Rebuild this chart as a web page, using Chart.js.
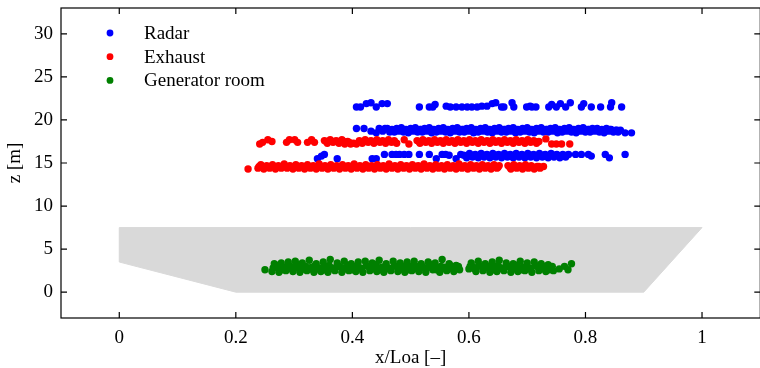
<!DOCTYPE html>
<html>
<head>
<meta charset="utf-8">
<script src="https://cdn.jsdelivr.net/npm/chart.js@4.4.1/dist/chart.umd.min.js"></script>
<style>
html, body { margin: 0; padding: 0; background: #fff; overflow: hidden; }
#wrap { width: 764px; height: 368px; }
</style>
</head>
<body>
<div id="wrap"><canvas id="zChart"></canvas></div>
<script>
// axis ticks
const xTicks = [0, 0.2, 0.4, 0.6, 0.8, 1];
const yTicks = [0, 5, 10, 15, 20, 25, 30];

const seriesNames = ['Radar', 'Exhaust', 'Generator room'];
const seriesColors = ['#0000ff', '#ff0000', '#008000'];

// hull outline (x/Loa, z)
const hullX = [0, 0, 1.0, 0.9, 0.2, 0];
const hullZ = [3.5, 7.5, 7.5, 0, 0, 3.5];

// Radar points [x/Loa, z]
const radarTop = [
  [0.407,21.5],[0.414,21.5],[0.424,21.9],[0.432,22.0],[0.441,21.5],[0.451,21.9],[0.460,21.9],
  [0.515,21.5],[0.532,21.5],[0.538,21.5],[0.542,21.8],[0.561,21.6],[0.568,21.5],[0.578,21.5],
  [0.588,21.5],[0.597,21.5],[0.605,21.5],[0.614,21.5],[0.622,21.6],[0.631,21.6],[0.640,21.9],
  [0.646,22.0],[0.656,21.5],[0.660,21.5],[0.674,22.0],[0.677,21.5],[0.699,21.5],[0.705,21.6],
  [0.708,21.5],[0.715,21.5],[0.737,21.5],[0.742,21.8],[0.750,21.5],[0.757,21.9],[0.766,21.5],
  [0.774,22.0],[0.793,21.5],[0.797,21.9],[0.810,21.5],[0.826,21.5],[0.843,21.5],[0.845,22.0],
  [0.862,21.5]
];
const radarMid = [
  [0.407,19.0],[0.420,19.0],[0.432,18.7],[0.441,18.5],[0.446,19.0],[0.452,18.7],[0.456,19.0],
  [0.460,19.0],[0.464,18.6],[0.468,18.9],[0.472,18.6],[0.476,19.0],[0.480,18.7],[0.484,19.1],
  [0.488,18.6],[0.492,18.9],[0.496,18.5],[0.500,19.0],[0.504,18.7],[0.508,19.1],[0.512,18.6],
  [0.516,18.9],[0.520,18.6],[0.524,19.0],[0.528,18.7],[0.532,19.1],[0.536,18.5],[0.540,18.9],
  [0.544,18.6],[0.548,19.0],[0.552,18.7],[0.556,19.1],[0.560,18.6],[0.564,18.9],[0.568,18.5],
  [0.572,19.0],[0.576,18.7],[0.580,19.1],[0.584,18.6],[0.588,18.9],[0.592,18.6],[0.596,19.0],
  [0.600,18.7],[0.604,19.1],[0.608,18.5],[0.612,18.9],[0.616,18.6],[0.620,19.0],[0.624,18.7],
  [0.628,19.1],[0.632,18.6],[0.636,18.9],[0.640,18.5],[0.644,19.0],[0.648,18.7],[0.652,19.1],
  [0.656,18.6],[0.660,18.9],[0.664,18.6],[0.668,19.0],[0.672,18.7],[0.676,19.1],[0.680,18.5],
  [0.684,18.9],[0.688,18.6],[0.692,19.0],[0.696,18.7],[0.700,19.1],[0.704,18.6],[0.708,18.9],
  [0.712,18.5],[0.716,19.0],[0.720,18.7],[0.724,19.1],[0.728,18.6],[0.732,18.9],[0.736,18.6],
  [0.740,19.0],[0.744,18.7],[0.748,19.1],[0.752,18.5],[0.756,18.9],[0.760,18.6],[0.764,19.0],
  [0.768,18.7],[0.772,19.1],[0.776,18.6],[0.780,18.9],[0.784,18.5],[0.788,19.0],[0.792,18.7],
  [0.796,19.1],[0.800,18.6],[0.804,18.9],[0.808,18.6],[0.812,19.0],[0.816,18.7],[0.820,19.0],
  [0.824,18.6],[0.828,18.9],[0.832,18.5],[0.836,19.0],[0.840,18.7],[0.844,18.9],[0.848,18.6],
  [0.852,18.8],[0.856,18.6],[0.860,18.8],[0.868,18.5],[0.879,18.5],
  [0.470,18.8],[0.482,18.9],[0.494,18.8],[0.506,18.8],[0.518,18.9],[0.530,18.8],[0.542,18.8],
  [0.554,18.9],[0.566,18.8],[0.578,18.8],[0.590,18.9],[0.602,18.8],[0.614,18.8],[0.626,18.9],
  [0.638,18.8],[0.650,18.8],[0.662,18.9],[0.674,18.8],[0.686,18.8],[0.698,18.9],[0.710,18.8],
  [0.722,18.8],[0.734,18.9],[0.746,18.8],[0.758,18.8],[0.770,18.9],[0.782,18.8],[0.794,18.8],
  [0.806,18.9],[0.818,18.8],[0.830,18.8],[0.842,18.9],[0.854,18.8]
];
const radarLow = [
  [0.340,15.5],[0.347,15.8],[0.352,16.0],[0.374,15.5],[0.434,15.5],[0.441,15.5],[0.455,16.0],
  [0.468,16.0],[0.475,16.0],[0.481,16.0],[0.489,16.0],[0.497,16.0],[0.515,16.0],[0.532,16.0],
  [0.544,15.5],[0.554,16.0],[0.560,16.0],[0.566,15.9],[0.578,15.5],[0.586,16.0],
  [0.591,15.9],[0.596,15.6],[0.601,16.1],[0.606,15.7],[0.611,16.0],[0.616,15.6],[0.621,16.1],
  [0.626,15.7],[0.631,16.0],[0.636,15.6],[0.641,16.1],[0.646,15.7],[0.651,16.0],[0.656,15.6],
  [0.661,16.1],[0.666,15.7],[0.671,16.0],[0.676,15.6],[0.681,16.1],[0.686,15.7],[0.691,16.0],
  [0.696,15.6],[0.701,16.1],[0.706,15.7],[0.711,16.0],[0.716,15.6],[0.721,16.1],[0.726,15.7],
  [0.731,16.0],[0.736,15.6],[0.741,16.1],[0.746,15.7],[0.751,16.0],[0.756,15.6],[0.761,16.0],
  [0.766,15.7],[0.771,16.0],[0.783,16.0],[0.793,16.0],[0.805,16.0],[0.810,15.8],[0.834,16.0],
  [0.841,15.6],[0.868,16.0],
  [0.598,15.8],[0.608,15.9],[0.618,15.8],[0.628,15.9],[0.638,15.8],[0.648,15.9],[0.658,15.8],
  [0.668,15.9],[0.678,15.8],[0.688,15.9],[0.698,15.8],[0.708,15.9],[0.718,15.8],[0.728,15.9],
  [0.738,15.8],[0.748,15.9],[0.758,15.8],[0.768,15.9]
];

// Exhaust points [x/Loa, z]
const exhaustUpper = [
  [0.241,17.2],[0.246,17.4],[0.255,17.7],[0.262,17.5],[0.287,17.4],[0.292,17.7],[0.301,17.7],
  [0.306,17.4],[0.323,17.4],[0.330,17.7],[0.335,17.4],
  [0.352,17.6],[0.357,17.3],[0.362,17.7],[0.367,17.4],[0.372,17.6],[0.377,17.3],[0.382,17.7],
  [0.387,17.2],[0.392,17.5],[0.397,17.2],[0.402,17.3],[0.407,17.2],[0.412,17.6],[0.417,17.3],
  [0.422,17.7],[0.427,17.4],[0.432,17.6],[0.437,17.3],[0.442,17.7],[0.447,17.4],[0.452,17.6],
  [0.457,17.3],[0.462,17.7],[0.467,17.4],[0.472,17.6],[0.476,17.3],
  [0.489,17.7],[0.497,17.2],
  [0.511,17.6],[0.516,17.3],[0.521,17.7],[0.526,17.4],[0.531,17.6],[0.536,17.3],[0.541,17.7],
  [0.546,17.4],[0.551,17.6],[0.556,17.3],[0.561,17.7],[0.566,17.4],[0.571,17.6],[0.576,17.3],
  [0.581,17.7],[0.586,17.4],[0.591,17.6],[0.596,17.3],[0.601,17.7],[0.606,17.4],[0.611,17.6],
  [0.616,17.3],[0.621,17.7],[0.626,17.4],[0.631,17.6],[0.636,17.3],[0.641,17.7],[0.646,17.4],
  [0.651,17.6],[0.656,17.3],[0.661,17.7],[0.666,17.4],[0.671,17.6],[0.676,17.3],[0.681,17.7],
  [0.686,17.4],[0.691,17.6],[0.696,17.3],[0.701,17.7],[0.706,17.4],[0.711,17.6],[0.716,17.3],
  [0.720,17.5],[0.732,17.8],[0.742,17.2],[0.750,17.2],[0.759,17.2],[0.773,17.2],
  [0.355,17.5],[0.365,17.5],[0.375,17.5],[0.385,17.5],[0.395,17.4],[0.420,17.5],[0.430,17.5],
  [0.440,17.5],[0.450,17.5],[0.460,17.5],[0.470,17.5],[0.514,17.5],[0.524,17.5],[0.534,17.5],
  [0.544,17.5],[0.554,17.5],[0.564,17.5],[0.574,17.5],[0.584,17.5],[0.594,17.5],[0.604,17.5],
  [0.614,17.5],[0.624,17.5],[0.634,17.5],[0.644,17.5],[0.654,17.5],[0.664,17.5],[0.674,17.5],
  [0.684,17.5],[0.694,17.5],[0.704,17.5],[0.714,17.5]
];
const exhaustLower = [
  [0.221,14.3],
  [0.238,14.4],[0.243,14.8],[0.248,14.3],[0.253,14.7],[0.258,14.4],[0.263,14.8],[0.268,14.3],
  [0.273,14.7],[0.278,14.4],[0.283,14.9],[0.288,14.4],[0.293,14.7],[0.298,14.3],[0.303,14.8],
  [0.308,14.4],[0.313,14.7],[0.318,14.3],[0.323,14.8],[0.328,14.4],[0.333,14.7],[0.338,14.3],
  [0.343,14.9],[0.348,14.4],[0.353,14.7],[0.358,14.3],[0.363,14.8],[0.368,14.4],[0.373,14.7],
  [0.378,14.3],[0.383,14.8],[0.388,14.4],[0.393,14.7],[0.398,14.3],[0.403,14.9],[0.408,14.4],
  [0.413,14.7],[0.418,14.3],[0.423,14.8],[0.428,14.4],[0.433,14.7],[0.438,14.3],[0.443,14.8],
  [0.448,14.4],[0.453,14.7],[0.458,14.3],[0.463,14.9],[0.468,14.4],[0.473,14.7],[0.478,14.3],
  [0.483,14.8],[0.488,14.4],[0.493,14.7],[0.498,14.3],[0.503,14.8],[0.508,14.4],[0.513,14.7],
  [0.518,14.3],[0.523,14.9],[0.528,14.4],[0.533,14.7],[0.538,14.3],[0.543,14.8],[0.548,14.4],
  [0.553,14.7],[0.558,14.3],[0.563,14.8],[0.568,14.4],[0.573,14.7],[0.578,14.3],[0.583,14.9],
  [0.588,14.4],[0.593,14.7],[0.598,14.3],[0.603,14.8],[0.608,14.4],[0.613,14.7],[0.618,14.3],
  [0.623,14.8],[0.628,14.4],[0.633,14.7],[0.638,14.3],[0.643,14.8],[0.648,14.4],[0.652,14.7],
  [0.667,14.7],[0.672,14.3],[0.677,14.8],[0.682,14.4],[0.687,14.7],[0.692,14.3],[0.697,14.8],
  [0.702,14.4],[0.707,14.7],[0.712,14.3],[0.717,14.6],[0.722,14.4],[0.728,14.6],
  [0.240,14.6],[0.250,14.5],[0.260,14.6],[0.270,14.5],[0.280,14.6],[0.290,14.6],[0.300,14.5],
  [0.310,14.6],[0.320,14.5],[0.330,14.6],[0.340,14.6],[0.350,14.5],[0.360,14.6],[0.370,14.5],
  [0.380,14.6],[0.390,14.6],[0.400,14.5],[0.410,14.6],[0.420,14.5],[0.430,14.6],[0.440,14.6],
  [0.450,14.5],[0.460,14.6],[0.470,14.5],[0.480,14.6],[0.490,14.6],[0.500,14.5],[0.510,14.6],
  [0.520,14.5],[0.530,14.6],[0.540,14.6],[0.550,14.5],[0.560,14.6],[0.570,14.5],[0.580,14.6],
  [0.590,14.6],[0.600,14.5],[0.610,14.6],[0.620,14.5],[0.630,14.6],[0.640,14.6],[0.650,14.5],
  [0.670,14.5],[0.680,14.6],[0.690,14.5],[0.700,14.6],[0.710,14.5],[0.720,14.6]
];

// Generator room points [x/Loa, z]
const generatorPts = [
  [0.250,2.6],
  [0.262,2.4],[0.266,3.3],[0.270,2.9],[0.274,2.3],[0.278,3.4],[0.282,2.8],[0.286,2.5],[0.290,3.5],
  [0.294,3.0],[0.298,2.4],[0.302,3.6],[0.306,2.8],[0.310,2.3],[0.314,3.4],[0.318,3.0],[0.322,2.5],
  [0.326,3.7],[0.330,2.9],[0.334,2.3],[0.338,3.3],[0.342,2.7],[0.346,2.4],[0.350,3.5],[0.354,3.0],
  [0.358,2.3],[0.362,3.8],[0.366,2.8],[0.370,2.5],[0.374,3.4],[0.378,3.0],[0.382,2.3],[0.386,3.6],
  [0.390,2.7],[0.394,2.5],[0.398,3.3],[0.402,3.0],[0.406,2.4],[0.410,3.5],[0.414,2.8],[0.418,2.3],
  [0.422,3.6],[0.426,3.0],[0.430,2.5],[0.434,3.4],[0.438,2.7],[0.442,2.4],[0.446,3.7],[0.450,2.9],
  [0.454,2.3],[0.458,3.3],[0.462,2.8],[0.466,2.5],[0.470,3.6],[0.474,3.0],[0.478,2.4],[0.482,3.4],
  [0.486,2.7],[0.490,2.3],[0.494,3.5],[0.498,2.9],[0.502,2.5],[0.506,3.6],[0.510,3.0],[0.514,2.4],
  [0.518,3.3],[0.522,2.8],[0.526,2.3],[0.530,3.5],[0.534,3.0],[0.538,2.6],[0.542,3.4],[0.546,2.7],
  [0.550,2.3],[0.554,3.8],[0.558,2.9],[0.562,2.5],[0.566,3.3],[0.570,2.8],[0.574,2.4],[0.578,3.1],
  [0.584,2.6],
  [0.600,2.7],[0.604,3.4],[0.608,2.9],[0.612,2.4],[0.616,3.6],[0.620,3.0],[0.624,2.5],[0.628,3.3],
  [0.632,2.8],[0.636,2.3],[0.640,3.5],[0.644,3.0],[0.648,2.4],[0.652,3.7],[0.656,2.8],[0.660,2.5],
  [0.664,3.4],[0.668,3.0],[0.672,2.3],[0.676,3.3],[0.680,2.7],[0.684,2.4],[0.688,3.6],[0.692,2.9],
  [0.696,2.5],[0.700,3.4],[0.704,2.8],[0.708,2.3],[0.712,3.5],[0.716,3.0],[0.720,2.5],[0.724,3.3],
  [0.728,2.7],[0.732,2.4],[0.736,3.2],[0.740,2.8],[0.745,2.5],
  [0.755,2.7],[0.764,3.0],[0.770,2.6],[0.776,3.3],
  [0.264,2.8],[0.272,3.1],[0.280,2.6],[0.288,3.0],[0.296,2.7],[0.304,3.2],[0.312,2.6],[0.320,3.0],
  [0.328,2.7],[0.336,3.1],[0.344,2.8],[0.352,2.6],[0.360,3.1],[0.368,2.7],[0.376,3.0],[0.384,2.8],
  [0.392,3.1],[0.400,2.6],[0.408,3.0],[0.416,2.7],[0.424,3.1],[0.432,2.8],[0.440,3.2],[0.448,2.6],
  [0.456,3.0],[0.464,2.7],[0.472,3.1],[0.480,2.8],[0.488,3.0],[0.496,2.6],[0.504,3.1],[0.512,2.7],
  [0.520,3.0],[0.528,2.8],[0.536,3.2],[0.544,2.6],[0.552,3.0],[0.560,2.7],[0.568,3.1],[0.576,2.8],
  [0.582,3.0],
  [0.602,3.0],[0.610,2.7],[0.618,3.1],[0.626,2.8],[0.634,3.0],[0.642,2.6],[0.650,3.1],[0.658,2.7],
  [0.666,3.0],[0.674,2.8],[0.682,3.1],[0.690,2.6],[0.698,3.0],[0.706,2.7],[0.714,3.1],[0.722,2.8],
  [0.730,3.0],[0.738,2.6],[0.743,3.0]
];

const FONT = 'Liberation Serif';

function toXY(pts) {
  return pts.map(p => ({x: p[0], y: p[1]}));
}

// box frame with inward ticks on all four sides
const frameTicks = {
  id: 'frameTicks',
  afterDatasetsDraw(chart) {
    const {ctx, chartArea: a, scales: {x, y}} = chart;
    ctx.save();
    ctx.strokeStyle = '#000';
    ctx.lineWidth = 1.2;
    ctx.strokeRect(a.left, a.top, a.right - a.left, a.bottom - a.top);
    ctx.beginPath();
    xTicks.forEach(v => {
      const px = x.getPixelForValue(v);
      ctx.moveTo(px, a.bottom); ctx.lineTo(px, a.bottom - 6);
      ctx.moveTo(px, a.top); ctx.lineTo(px, a.top + 6);
    });
    yTicks.forEach(v => {
      const py = y.getPixelForValue(v);
      ctx.moveTo(a.left, py); ctx.lineTo(a.left + 6, py);
      ctx.moveTo(a.right, py); ctx.lineTo(a.right - 6, py);
    });
    ctx.stroke();
    ctx.restore();
  }
};

// legend in the upper left corner of the plot
const dotLegend = {
  id: 'dotLegend',
  afterDraw(chart) {
    const {ctx, chartArea: a} = chart;
    ctx.save();
    ctx.font = '19px "' + FONT + '"';
    ctx.textBaseline = 'middle';
    seriesNames.forEach((name, i) => {
      const cy = a.top + 25 + i * 23.7;
      ctx.fillStyle = seriesColors[i];
      ctx.beginPath();
      ctx.arc(a.left + 49, cy, 3.4, 0, Math.PI * 2);
      ctx.fill();
      ctx.fillStyle = '#000';
      ctx.fillText(name, a.left + 83, cy + 1);
    });
    ctx.restore();
  }
};

const hull = hullX.map((v, i) => ({x: v, y: hullZ[i]}));
const pointOpts = {pointRadius: 3.7, pointHoverRadius: 3.7, borderWidth: 0, pointBorderWidth: 0};

new Chart(document.getElementById('zChart'), {
  type: 'scatter',
  data: {
    datasets: [
      {label: 'Radar', data: toXY(radarTop.concat(radarMid, radarLow)),
        backgroundColor: seriesColors[0], order: 3, ...pointOpts},
      {label: 'Exhaust', data: toXY(exhaustUpper.concat(exhaustLower)),
        backgroundColor: seriesColors[1], order: 2, ...pointOpts},
      {label: 'Generator room', data: toXY(generatorPts),
        backgroundColor: seriesColors[2], order: 1, ...pointOpts},
      {label: 'hull', data: hull, showLine: true, fill: 'shape', tension: 0,
        backgroundColor: '#d9d9d9', borderColor: '#d9d9d9', borderWidth: 1,
        pointRadius: 0, order: 4}
    ]
  },
  options: {
    responsive: true,
    maintainAspectRatio: false,
    animation: false,
    layout: {padding: {top: 8, right: 1, left: 0, bottom: 0}},
    plugins: {
      legend: {display: false},
      tooltip: {enabled: false}
    },
    scales: {
      x: {
        type: 'linear', min: -0.1, max: 1.1,
        afterBuildTicks: s => { s.ticks = xTicks.map(v => ({value: v})); },
        afterFit: s => { s.height = 50; s.paddingLeft = 0; s.paddingRight = 0; },
        grid: {display: false, drawTicks: false},
        border: {display: false},
        ticks: {padding: 9, color: '#000', font: {family: FONT, size: 19},
          callback: v => String(v)},
        title: {display: true, text: 'x/Loa [\u2013]', color: '#000',
          font: {family: FONT, size: 19, lineHeight: 1}, padding: 0}
      },
      y: {
        type: 'linear', min: -3, max: 33,
        afterBuildTicks: s => { s.ticks = yTicks.map(v => ({value: v})); },
        afterFit: s => { s.width = 61; s.paddingTop = 0; s.paddingBottom = 0; },
        grid: {display: false, drawTicks: false},
        border: {display: false},
        ticks: {padding: 8, color: '#000', font: {family: FONT, size: 19},
          callback: v => String(v)},
        title: {display: true, text: 'z [m]', color: '#000',
          font: {family: FONT, size: 19, lineHeight: 1}, padding: {top: 6}}
      }
    }
  },
  plugins: [frameTicks, dotLegend]
});
</script>
</body>
</html>
